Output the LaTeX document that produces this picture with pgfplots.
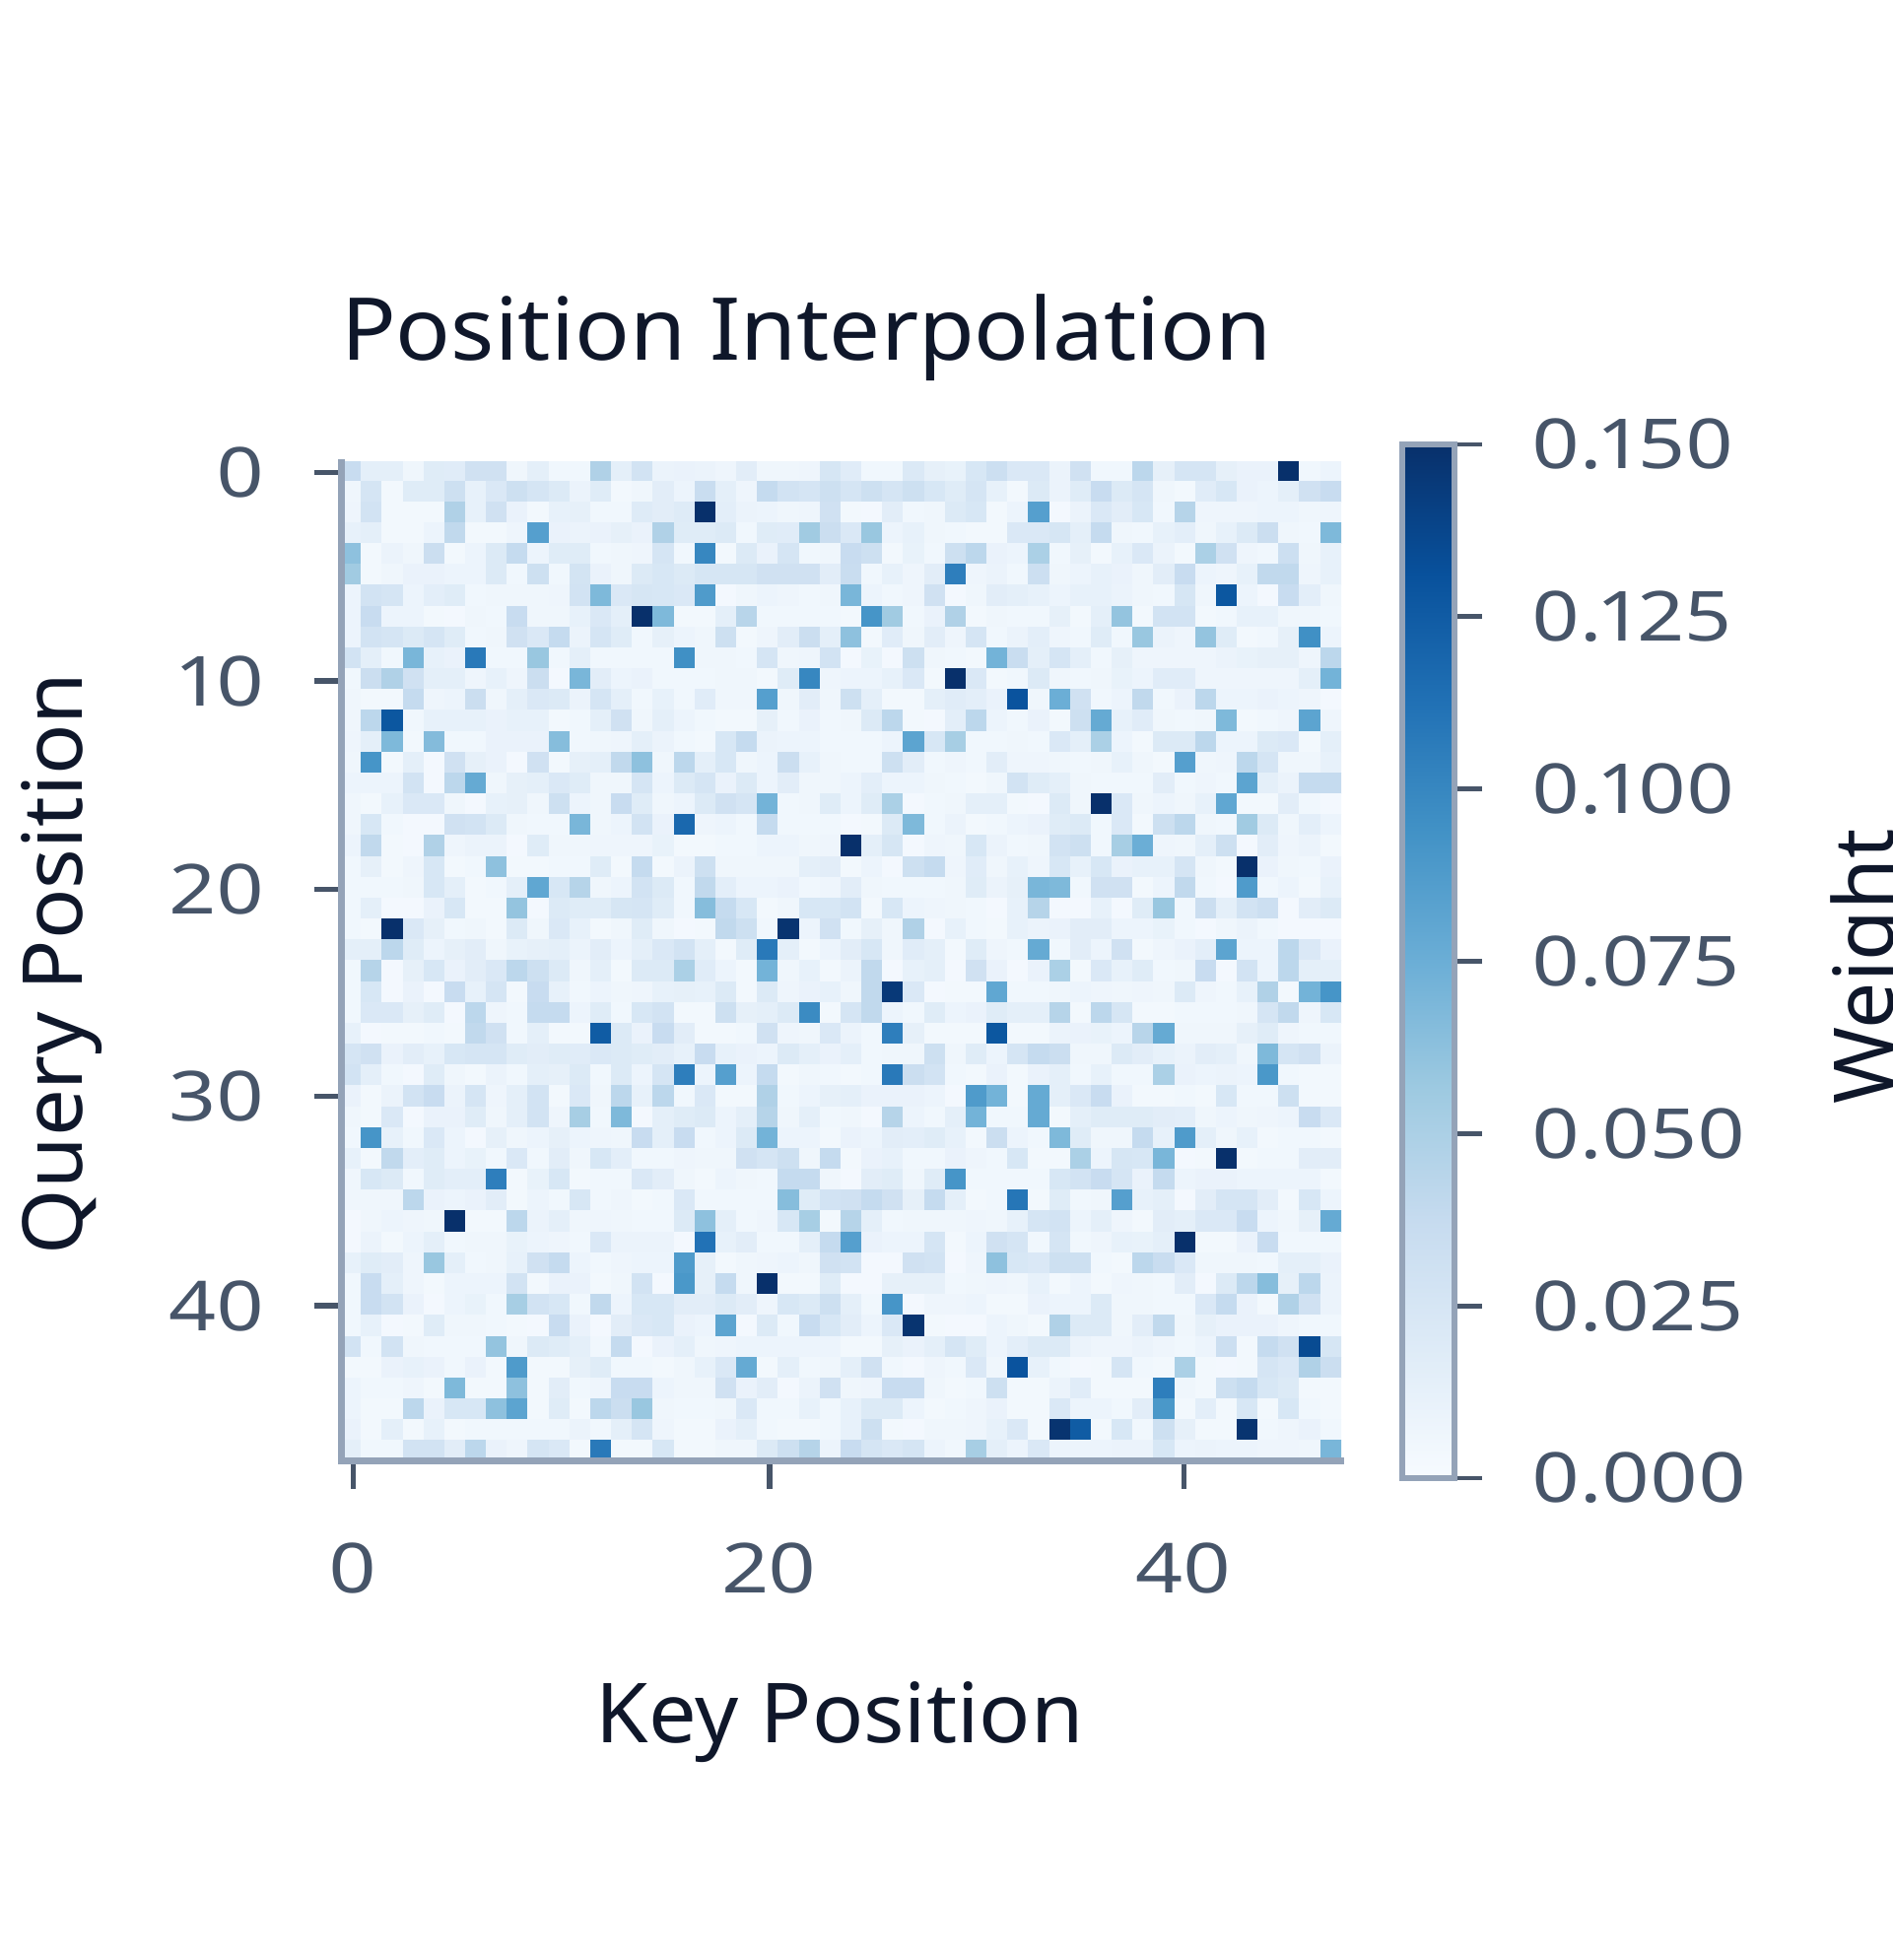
\documentclass[border=0pt]{standalone}
\usepackage{pgfplots}
\usepackage{pgfplotstable}
\pgfplotsset{compat=1.18}
\usepackage{fontspec}
\setmainfont{Noto Sans}
\newfontfamily\tickfont[Numbers=Proportional,FakeStretch=1.2]{Noto Sans}
\newfontfamily\titlefont[FakeStretch=1.05]{Noto Sans}
\newfontfamily\labelfont[FakeStretch=1.03]{Noto Sans}
\newfontfamily\ylabelfont[FakeStretch=1.013]{Noto Sans}
\definecolor{titlecol}{HTML}{0F172A}
\definecolor{tickcol}{HTML}{475569}
\definecolor{linecol}{HTML}{94A3B8}
\pgfplotsset{colormap={blues}{
 color(0)=(rgb,255:red,247;green,251;blue,255)
 color(1)=(rgb,255:red,222;green,235;blue,247)
 color(2)=(rgb,255:red,198;green,219;blue,239)
 color(3)=(rgb,255:red,158;green,202;blue,225)
 color(4)=(rgb,255:red,107;green,174;blue,214)
 color(5)=(rgb,255:red,66;green,146;blue,198)
 color(6)=(rgb,255:red,33;green,113;blue,181)
 color(7)=(rgb,255:red,8;green,81;blue,156)
 color(8)=(rgb,255:red,8;green,48;blue,107)
}}
% weights in thousandths, one line per query position, one column per key position
\pgfplotstableread[header=false]{
36 14 14 6 18 17 30 30 6 14 5 5 48 14 28 9 10 9 7 16 6 6 7 25 17 5 5 21 13 11 24 33 22 22 9 30 5 5 42 13 26 26 13 10 10 150 5 8
6 26 4 18 18 32 12 22 32 26 20 9 18 4 6 16 8 35 14 7 38 28 26 32 26 32 26 32 24 18 26 12 4 20 9 18 36 20 26 6 4 17 24 10 8 14 30 36
7 28 4 4 4 48 12 30 10 4 12 13 5 5 19 16 19 150 15 9 8 6 7 30 4 3 16 5 6 20 24 4 8 85 3 9 22 16 24 5 45 7 7 7 8 8 6 7
12 14 4 4 8 40 4 4 7 85 10 9 10 13 10 48 18 18 20 5 18 17 55 34 22 58 8 12 6 5 4 4 22 22 25 14 38 6 5 12 15 6 12 20 34 6 5 68
62 4 9 6 34 4 8 20 38 8 18 18 5 6 7 26 5 100 4 20 10 26 5 6 36 32 4 11 5 32 42 10 8 50 5 13 4 12 22 9 4 50 30 7 5 33 6 12
55 4 6 10 10 8 8 20 5 32 5 27 10 6 20 24 20 25 25 25 30 30 30 16 35 5 12 7 16 105 7 9 5 33 6 8 12 10 6 16 36 8 7 12 40 40 7 12
8 28 26 8 15 18 5 6 6 6 7 28 68 22 25 24 22 88 3 6 8 7 5 6 70 8 5 7 30 3 6 16 14 12 8 12 12 9 6 5 25 6 128 8 3 36 15 6
8 36 8 8 4 3 6 5 36 6 6 12 22 14 150 68 4 4 14 44 5 5 5 5 4 92 55 5 10 48 4 6 5 5 13 4 14 60 4 28 28 4 5 12 12 6 6 5
8 28 26 20 26 18 5 6 30 22 38 9 26 18 5 13 8 6 32 4 7 16 34 14 62 4 17 6 16 7 26 5 9 15 7 5 18 5 58 9 7 60 18 4 5 13 95 8
28 14 5 70 12 10 108 5 5 58 5 14 5 5 5 5 95 6 6 5 26 6 7 28 3 11 3 32 6 5 4 72 35 14 26 14 5 13 7 7 7 7 9 11 13 13 7 42
5 34 48 30 14 14 7 12 7 34 3 70 16 8 10 5 5 5 6 6 4 18 100 7 8 8 12 22 4 150 22 4 5 20 6 5 6 11 8 17 17 7 7 7 7 7 14 72
6 4 4 38 7 8 34 6 14 22 20 9 26 14 5 12 5 17 6 6 85 6 16 6 32 14 4 4 14 17 15 10 130 6 75 30 5 8 40 5 10 42 8 8 10 8 7 3
6 42 128 5 12 12 12 10 12 12 4 5 14 30 6 14 8 5 4 4 13 5 10 5 6 20 42 4 3 15 42 8 5 10 4 32 78 12 17 6 5 6 68 4 5 7 82 7
7 14 68 4 66 5 5 10 10 10 65 5 6 7 14 9 5 4 24 38 9 8 8 5 5 5 8 82 24 52 5 5 6 5 22 14 50 8 4 20 20 42 8 8 20 22 4 14
6 92 4 14 3 30 13 10 3 30 4 13 14 40 62 6 42 14 24 6 8 34 12 6 5 5 32 16 5 7 5 16 7 7 6 5 6 12 6 4 85 6 7 42 26 6 6 12
8 8 8 28 3 42 78 6 13 14 22 18 6 6 26 8 20 26 10 20 8 16 6 6 8 15 8 8 6 5 4 6 28 18 14 6 5 5 5 16 5 7 5 82 14 9 38 38
6 4 12 22 22 6 3 12 13 6 32 8 6 36 18 6 8 20 30 26 72 5 6 18 8 18 50 3 5 6 14 14 4 3 20 6 150 22 6 8 6 12 80 4 4 16 5 3
6 24 5 3 3 30 28 20 6 5 5 70 6 8 28 10 118 7 8 5 38 5 5 5 3 4 20 68 5 9 4 5 8 10 18 20 5 22 4 32 42 6 5 55 20 6 15 8
8 40 4 3 48 7 9 9 3 18 6 6 7 7 7 11 4 4 5 5 8 8 6 7 150 14 25 3 7 6 24 9 5 6 28 32 5 52 75 7 6 14 32 3 16 7 9 4
5 13 4 7 24 4 5 62 4 4 5 5 18 4 38 4 9 32 6 6 6 6 14 16 4 8 3 32 38 7 17 6 12 7 24 12 24 10 12 12 26 6 4 150 10 6 5 10
5 5 5 6 24 14 4 5 14 80 24 45 6 8 28 20 5 40 15 8 8 10 5 7 16 6 5 5 5 6 18 9 13 70 68 5 30 30 4 8 40 5 3 88 5 8 4 12
5 14 3 3 10 24 4 4 60 3 20 18 18 25 26 18 5 65 38 24 4 6 24 24 28 4 24 8 7 6 5 3 12 45 3 3 12 3 18 58 5 34 14 28 33 3 16 20
5 4 150 22 13 5 6 4 20 6 22 12 4 6 18 6 3 4 40 32 5 148 8 30 5 13 6 48 3 12 5 4 12 9 10 16 16 8 8 11 5 3 6 9 5 3 3 3
14 14 42 18 8 13 16 6 11 13 14 9 16 8 14 22 28 14 4 18 108 14 4 8 16 24 6 17 14 4 18 7 5 78 5 16 8 30 4 7 10 15 82 8 8 42 22 10
5 45 3 13 24 10 16 22 42 32 20 6 14 4 20 20 50 17 8 4 72 6 12 4 9 40 3 12 14 3 30 10 3 10 50 4 22 12 18 5 6 36 3 28 8 42 14 14
5 24 3 10 3 36 12 26 4 36 12 5 8 6 7 12 13 12 20 4 20 7 10 12 6 40 145 22 3 4 4 80 5 5 6 8 7 6 7 6 20 7 5 12 48 4 72 92
5 22 22 13 18 3 42 7 5 38 38 8 18 5 24 28 4 4 32 13 14 20 98 4 26 40 8 5 18 8 10 18 14 14 45 4 42 25 4 4 5 5 5 6 26 40 7 24
12 3 4 4 5 4 40 30 5 14 4 4 125 20 10 36 16 4 4 5 30 7 6 22 9 5 105 13 4 4 4 128 4 4 9 10 11 8 44 78 6 6 6 13 18 7 5 5
26 30 10 16 12 24 26 26 18 16 18 17 22 20 18 16 12 36 12 10 8 20 14 10 14 5 6 6 32 6 18 8 26 38 34 6 6 20 16 12 9 16 14 6 68 26 30 9
28 14 5 3 18 6 4 9 5 14 13 20 5 20 8 26 105 8 85 8 38 4 6 5 4 5 108 34 28 5 4 10 4 10 14 5 12 5 5 50 10 8 9 8 90 5 4 4
10 4 9 28 36 9 26 7 14 28 4 22 6 42 12 42 5 22 4 4 48 5 8 13 14 10 10 10 8 3 88 72 4 78 14 22 36 10 4 4 5 4 24 5 5 32 4 4
6 4 22 3 10 10 18 6 14 28 7 52 5 68 3 14 18 20 8 14 45 6 14 5 6 3 45 8 5 14 72 5 5 78 4 14 18 18 18 16 15 6 8 6 7 8 36 22
5 92 12 5 22 8 3 13 6 8 13 8 7 6 36 14 36 5 8 20 72 8 8 4 10 8 16 15 18 12 4 34 8 5 68 18 6 6 38 12 88 14 6 12 4 5 5 4
12 4 40 15 18 8 11 5 22 5 16 6 24 15 5 5 7 6 6 30 26 32 6 38 4 10 12 5 5 10 7 5 24 4 4 50 8 25 24 70 3 4 150 4 5 5 16 16
6 24 20 5 18 15 15 105 4 11 24 4 5 5 22 16 6 4 8 6 5 38 38 6 3 16 18 6 18 92 5 5 5 5 24 28 36 26 10 38 8 10 10 8 8 8 8 4
6 6 6 42 10 8 10 16 4 8 5 24 5 7 4 5 22 5 5 5 5 65 18 28 30 38 30 13 38 14 4 5 110 4 18 5 6 85 12 14 3 16 26 26 16 4 24 8
3 6 8 7 6 150 4 4 42 9 14 6 7 6 5 5 20 62 14 5 7 24 52 4 45 14 5 6 6 6 7 6 12 26 28 8 14 7 4 16 14 22 22 36 8 6 13 78
3 9 4 8 14 5 6 6 11 8 7 5 22 9 9 9 3 112 12 16 5 5 14 38 85 10 8 8 26 4 8 30 26 5 26 5 7 12 11 14 150 4 4 10 36 5 5 5
12 18 16 7 58 14 5 6 12 30 38 8 5 7 8 8 88 13 4 6 7 8 6 30 28 3 3 30 28 3 7 62 24 22 32 32 5 4 42 35 22 6 6 6 5 14 14 10
5 36 14 7 4 8 8 8 28 4 10 10 4 6 28 3 90 13 38 6 150 4 4 18 3 3 13 13 13 5 6 7 6 12 4 8 4 7 6 5 16 3 20 42 65 13 42 9
5 36 28 10 3 8 11 5 52 28 24 5 40 8 24 24 16 16 20 16 7 24 20 32 14 5 92 3 7 7 8 4 4 10 8 8 20 6 6 5 5 22 38 10 4 48 30 9
5 12 3 4 18 6 6 5 4 3 36 10 3 16 22 24 10 8 82 3 20 5 36 24 16 8 22 148 4 3 3 8 6 4 48 20 20 6 16 40 6 13 10 10 10 7 5 5
28 5 28 6 5 5 5 60 6 20 18 14 5 38 3 10 14 6 7 8 8 8 8 8 4 4 13 10 14 26 18 8 15 20 20 9 7 7 9 7 5 8 33 4 38 30 135 25
4 4 10 12 10 5 10 4 88 4 4 13 18 5 5 4 6 12 22 78 4 14 5 6 14 30 5 3 7 5 22 6 130 12 5 3 4 26 5 4 50 4 3 4 26 22 48 34
8 5 5 7 4 68 4 4 62 4 16 5 7 36 36 8 6 6 30 10 16 3 9 30 6 7 36 36 6 4 5 32 4 4 9 17 4 4 4 105 6 4 32 38 24 20 4 4
8 4 4 42 10 24 24 62 82 4 18 4 42 34 58 6 5 5 6 22 5 5 12 5 12 20 20 8 4 5 7 10 4 4 22 8 8 5 16 90 4 15 4 24 4 24 5 4
10 4 14 4 12 4 5 5 5 5 5 9 5 14 26 7 4 4 10 14 5 4 4 5 12 32 4 3 6 6 7 12 22 4 148 125 4 24 5 32 13 4 4 148 5 7 10 5
14 5 5 28 28 16 42 10 7 26 22 4 108 4 4 24 4 4 6 6 20 32 45 8 36 26 22 26 8 5 52 14 8 22 8 8 8 9 9 24 8 9 8 8 7 7 6 70
}\weights
\begin{document}
\begin{tikzpicture}
\useasboundingbox (0,0) rectangle (960pt,994.5pt);
\begin{axis}[
 at={(173.35pt,253.15pt)}, anchor=south west,
 scale only axis, width=507.15pt, height=506.85pt,
 xmin=-0.43, xmax=47.5, ymin=-0.39, ymax=47.5, y dir=reverse,
 clip marker paths=true,
 axis x line=bottom, axis y line=left,
 axis line style={draw=none},
 xtick={0.12,20.09,39.96}, xticklabels={0,20,40},
 ytick={0.1,10.1,20.1,30,40.05}, yticklabels={0,10,20,30,40},
 tick align=outside,
 major tick length=14pt,
 tick style={draw=tickcol, line width=2.6pt},
 ticklabel style={text=tickcol, font=\tickfont\fontsize{35}{40}\selectfont},
 xticklabel style={yshift=-24pt},
 yticklabel style={xshift=-21.5pt},
 point meta min=0, point meta max=150,
 colormap name=blues,
]
\pgfplotsinvokeforeach{0,...,47}{
 \addplot[scatter, only marks, mark=square*, mark size=5.29pt, line width=0.2pt,
  scatter src=explicit,
  scatter/use mapped color={draw=mapped color, fill=mapped color}]
  table[x expr=#1, y expr=\coordindex, meta expr=\thisrowno{#1}] {\weights};
}
\end{axis}
\draw[linecol, line width=3.3pt, line cap=rect] (173.35pt,760pt) -- (173.35pt,253.15pt) -- (680.5pt,253.15pt);
\begin{axis}[
 at={(711.5pt,244.5pt)}, anchor=south west,
 scale only axis, width=26.5pt, height=524.5pt,
 xmin=0, xmax=1, ymin=0, ymax=150,
 axis on top,
 axis line style={draw=linecol, line width=3pt},
 xtick=\empty,
 ytick={0,25,50,75,100,125,150},
 yticklabels={0.000,0.025,0.050,0.075,0.100,0.125,0.150},
 ytick pos=right, yticklabel pos=right,
 major tick length=14pt,
 tick style={draw=tickcol, line width=2.4pt},
 tick align=outside,
 yticklabel style={anchor=west, text=tickcol, font=\tickfont\fontsize{35}{40}\selectfont, xshift=21.5pt},
 point meta min=0, point meta max=150,
 colormap name=blues,
]
\addplot[surf, shader=interp, mesh/cols=2, point meta=y] coordinates {(0,0) (1,0) (0,150) (1,150)};
\end{axis}
\node[anchor=base west, text=titlecol, font=\titlefont\fontsize{44}{48}\selectfont] at (169.5pt,811.5pt) {Position Interpolation};
\node[anchor=base, text=titlecol, font=\labelfont\fontsize{42}{48}\selectfont] at (426pt,110pt) {Key Position};
\node[anchor=base, rotate=90, text=titlecol, font=\ylabelfont\fontsize{42}{48}\selectfont] at (41.5pt,505.5pt) {Query Position};
\node[anchor=base, rotate=90, text=titlecol, font=\fontsize{42}{48}\selectfont] at (960.5pt,504pt) {Weight};
\end{tikzpicture}
\end{document}
